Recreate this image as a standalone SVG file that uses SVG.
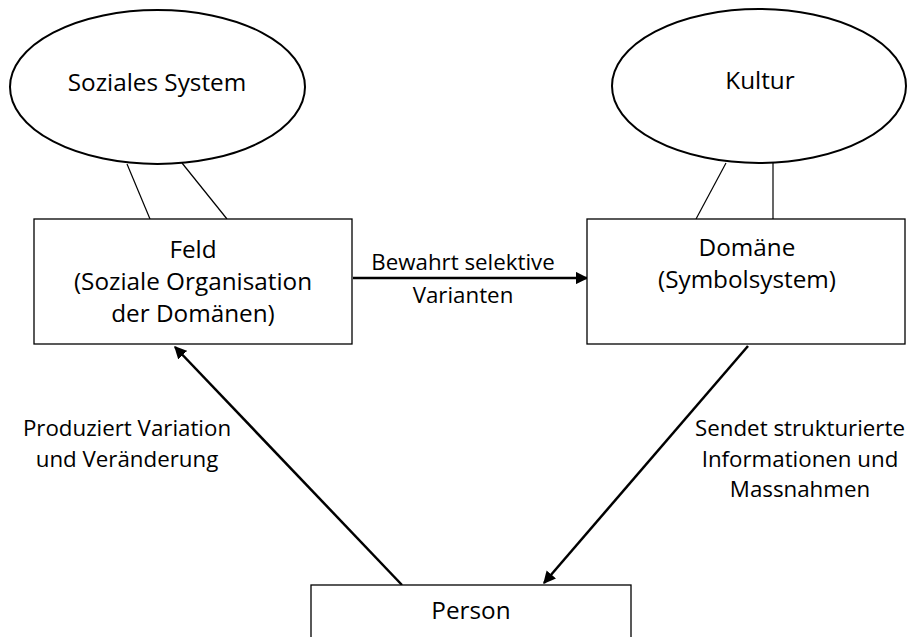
<svg xmlns="http://www.w3.org/2000/svg" width="909" height="637" viewBox="0 0 909 637">
<defs>
<style>
.shape{fill:#fff;stroke:#000;stroke-width:2}
.box{fill:#fff;stroke:#000;stroke-width:1.3}
.t{font-family:"Open Sans","Liberation Sans",sans-serif;font-size:24.3px;fill:#000;text-anchor:middle}
.l{font-family:"Open Sans","Liberation Sans",sans-serif;font-size:22.3px;fill:#000;text-anchor:middle}
.thin{stroke:#000;stroke-width:1.2;fill:none}
.arr{stroke:#000;stroke-width:2.5;fill:none;marker-end:url(#ah)}
</style>
<marker id="ah" viewBox="0 0 10 10" refX="9" refY="5" markerWidth="5" markerHeight="5" markerUnits="strokeWidth" orient="auto">
<path d="M0,0 L10,5 L0,10 z" fill="#000"/>
</marker>
</defs>
<rect width="909" height="637" fill="#fff"/>
<g id="connectors">
<line class="thin" x1="127" y1="164" x2="150" y2="219"/>
<line class="thin" x1="182" y1="163" x2="227" y2="219"/>
<line class="thin" x1="726" y1="163" x2="696" y2="219"/>
<line class="thin" x1="773" y1="163" x2="773" y2="219"/>
<line class="arr" x1="353" y1="278" x2="587" y2="278"/>
<line class="arr" x1="402" y1="585" x2="175" y2="347"/>
<line class="arr" x1="748" y1="346" x2="544" y2="583"/>
<text class="l" x="463" y="270">Bewahrt selektive</text>
<text class="l" x="463" y="303">Varianten</text>
<text class="l" x="127" y="436">Produziert Variation</text>
<text class="l" x="127" y="467">und Veränderung</text>
<text class="l" x="800" y="436">Sendet strukturierte</text>
<text class="l" x="800" y="467">Informationen und</text>
<text class="l" x="800" y="497">Massnahmen</text>
</g>
<g id="soziales-system">
<ellipse class="shape" cx="157.5" cy="87" rx="147.5" ry="77"/>
<text class="t" x="157" y="91">Soziales System</text>
</g>
<g id="kultur">
<ellipse class="shape" cx="759" cy="86" rx="147" ry="77"/>
<text class="t" x="760" y="89">Kultur</text>
</g>
<g id="feld">
<rect class="box" x="34" y="219" width="318" height="125"/>
<text class="t" x="193" y="258">Feld</text>
<text class="t" x="193" y="290">(Soziale Organisation</text>
<text class="t" x="193" y="322">der Domänen)</text>
</g>
<g id="domaene">
<rect class="box" x="587" y="219" width="318" height="125"/>
<text class="t" x="747" y="256">Domäne</text>
<text class="t" x="747" y="288">(Symbolsystem)</text>
</g>
<g id="person">
<rect class="box" x="311" y="585" width="320" height="60"/>
<text class="t" x="471" y="619">Person</text>
</g>
</svg>
